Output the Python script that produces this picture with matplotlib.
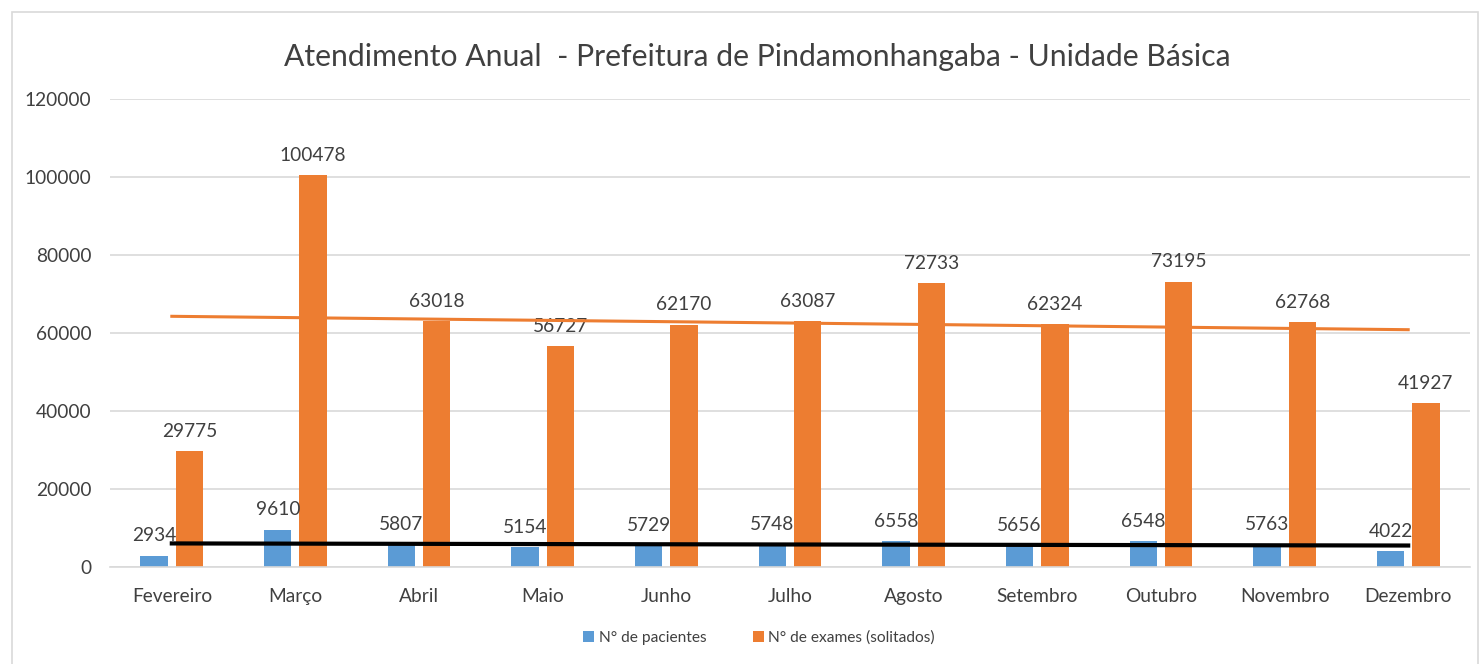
import matplotlib
matplotlib.use("Agg")
import matplotlib.pyplot as plt
import numpy as np
from matplotlib.patches import Rectangle

plt.rcParams['font.family'] = ['Lato', 'DejaVu Sans']

meses = ["Fevereiro", "Março", "Abril", "Maio", "Junho", "Julho", "Agosto",
         "Setembro", "Outubro", "Novembro", "Dezembro"]
pacientes = [2934, 9610, 5807, 5154, 5729, 5748, 6558, 5656, 6548, 5763, 4022]
exames = [29775, 100478, 63018, 56727, 62170, 63087, 72733, 62324, 73195, 62768, 41927]
yticks = [0, 20000, 40000, 60000, 80000, 100000, 120000]

azul = "#5B9BD5"
laranja = "#ED7D31"
cinza = "#404040"

fig = plt.figure(figsize=(14.79, 6.64), dpi=100)
ax = fig.add_axes([110 / 1479, 1 - 567 / 664, 1360 / 1479, 468 / 664])

x = np.arange(len(meses))
w = 0.222
off = 0.143

b1 = ax.bar(x - off, pacientes, w, color=azul, label="N° de pacientes", zorder=2)
b2 = ax.bar(x + off, exames, w, color=laranja, label="N° de exames (solitados)", zorder=2)

# rótulos de dados
for barras, vals in ((b1, pacientes), (b2, exames)):
    for r, v in zip(barras, vals):
        ax.annotate(str(v), (r.get_x() + r.get_width() / 2, v), xytext=(0, 8),
                    textcoords="offset points", ha="center", va="bottom",
                    fontsize=13.8, color=cinza)

# linhas de tendência (linear)
c1 = np.polyfit(x, pacientes, 1)
c2 = np.polyfit(x, exames, 1)
ax.plot(x, np.polyval(c2, x), color=laranja, lw=2.2, zorder=3)
ax.plot(x, np.polyval(c1, x), color="black", lw=3, zorder=3)

ax.set_xlim(-0.5, len(meses) - 0.5)
ax.set_ylim(0, 120000)
ax.set_yticks(yticks)
ax.set_yticklabels([str(t) for t in yticks])
ax.set_xticks(x)
ax.set_xticklabels(meses)
ax.tick_params(axis="both", length=0, labelsize=13.8, colors=cinza)
ax.tick_params(axis="y", pad=13.5)
ax.tick_params(axis="x", pad=15)
ax.grid(axis="y", color="#D9D9D9", lw=1.2, zorder=0)
ax.set_axisbelow(True)
for s in ["top", "right", "left"]:
    ax.spines[s].set_visible(False)
ax.spines["bottom"].set_color("#D9D9D9")
ax.spines["bottom"].set_linewidth(1.2)

fig.text(757 / 1479, 1 - 57 / 664, "Atendimento Anual  - Prefeitura de Pindamonhangaba - Unidade Básica",
         ha="center", va="center", fontsize=21.7, color=cinza)

leg = fig.legend(handles=[b1, b2], loc="center", bbox_to_anchor=(759 / 1479, 1 - 638 / 664),
                 ncol=2, frameon=False, fontsize=11.2, handlelength=0.7, handleheight=0.7,
                 handletextpad=0.3, columnspacing=3)
for t in leg.get_texts():
    t.set_color(cinza)

# moldura do gráfico
fig.patches.append(Rectangle((12 / 1479, -0.05), 1466 / 1479, 1 - 12 / 664 + 0.05,
                             transform=fig.transFigure, fill=False, edgecolor="#D9D9D9", lw=1.2))

fig.savefig("out.png", dpi=100)
